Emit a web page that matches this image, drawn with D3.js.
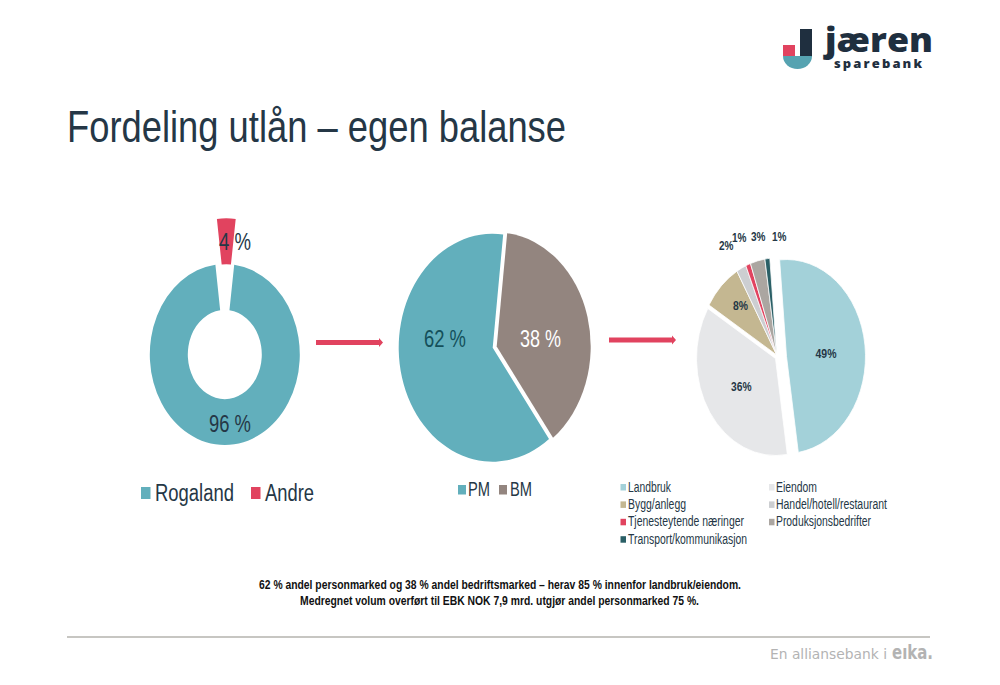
<!DOCTYPE html>
<html><head><meta charset="utf-8">
<style>html,body{margin:0;background:#fff}svg{display:block}text{font-family:"Liberation Sans",Arial,sans-serif}</style>
<script src="https://cdnjs.cloudflare.com/ajax/libs/d3/7.8.5/d3.min.js"></script>
</head><body><svg id="c" width="1000" height="685" viewBox="0 0 1000 685"></svg>
<script>
const regionCats = ["Rogaland", "Andre"];
const regionVals = [96, 4];
const regionLabels = ["96 %", "4 %"];
const marketCats = ["PM", "BM"];
const marketVals = [62, 38];
const marketLabels = ["62 %", "38 %"];
const sectorCats = ["Landbruk", "Eiendom", "Bygg/anlegg", "Handel/hotell/restaurant", "Tjenesteytende næringer", "Produksjonsbedrifter", "Transport/kommunikasjon"];
const sectorVals = [49, 36, 8, 2, 1, 3, 1];
const sectorLabels = ["49%", "36%", "8%", "2%", "1%", "3%", "1%"];
const titleText = "Fordeling utlån – egen balanse";
const noteLines = ["62 % andel personmarked og 38 % andel bedriftsmarked – herav 85 % innenfor landbruk/eiendom.", "Medregnet volum overført til EBK NOK 7,9 mrd. utgjør andel personmarked 75 %."];

const svg = d3.select("#c");
const DARK = "#253746", TEAL = "#62AFBC", RED = "#E1435F";
const regionColor = d3.scaleOrdinal(regionCats, [TEAL, RED]);
const marketColor = d3.scaleOrdinal(marketCats, [TEAL, "#93857F"]);
const sectorColor = d3.scaleOrdinal(sectorCats, ["#A3D1D9", "#E6E7E9", "#C4B791", "#CCCED1", RED, "#ABA6A1", "#2A5F66"]);
const rad = d => d * Math.PI / 180;

function label(s, x, y, size, width, fill, o = {}) {
  return svg.append("text").attr("x", x).attr("y", y).attr("font-size", size)
    .attr("fill", fill).attr("font-weight", o.weight || (o.bold ? 700 : 400))
    .attr("textLength", width).attr("lengthAdjust", o.adjust || "spacingAndGlyphs")
    .style("font-family", o.font || null).text(s);
}

// An elliptical pie: the slide is stretched vertically, so each slice is drawn in a scaled group.
function pieChart(cats, vals, color, start, o) {
  const pie = d3.pie().sort(null).startAngle(rad(start)).endAngle(rad(start + 360))(vals);
  pie.forEach((d, i) => {
    const c = o.centers(i);
    svg.append("g").attr("transform", `translate(${c[0]},${c[1]}) scale(1,${o.ry / o.rx})`)
      .append("path")
      .attr("d", d3.arc().innerRadius(o.inner || 0).outerRadius(o.rx)(d))
      .attr("fill", color(cats[i]))
      .attr("stroke", o.stroke || "none").attr("stroke-width", o.stroke ? 0.7 : 0);
  });
}

// Title
label(titleText, 67, 142, 44.5, 499, DARK);

// Logo
svg.append("rect").attr("x", 800).attr("y", 29).attr("width", 12).attr("height", 28).attr("fill", "#1F2F3F");
svg.append("rect").attr("x", 783).attr("y", 45).attr("width", 12).attr("height", 11).attr("fill", RED);
svg.append("path").attr("d", "M783,56 H812 A14.5,13 0 0 1 783,56 Z").attr("fill", "#56A3B1");
svg.append("path").attr("d", "M795,56 V51 H800 V56 Z").attr("fill", "#fff");
label("jæren", 825, 52, 33, 108, "#1F2F3F", {weight: 800, font: "'Open Sans'"});
label("sparebank", 834, 68, 13, 88, "#1F2F3F", {weight: 800, font: "'Open Sans'", adjust: "spacing"});

// Donut
pieChart(regionCats, regionVals, regionColor, 7.2, {
  rx: 75, ry: 90.5, inner: 37,
  centers: i => i === 0 ? [224.8, 354.5] : [226.3, 308.8]
});
label(regionLabels[0], 209, 432, 23.5, 42, DARK);
label(regionLabels[1], 219, 249.5, 23.5, 32, DARK);

// Market pie
pieChart(marketCats, marketVals, marketColor, -216.8, {
  rx: 94, ry: 114,
  centers: i => i === 0 ? [492.7, 347.7] : [496.7, 346.5]
});
label(marketLabels[0], 424, 347, 23.5, 42, "#14505A");
label(marketLabels[1], 520, 347, 23.5, 41, "#fff");

// Sector pie
pieChart(sectorCats, sectorVals, sectorColor, -5, {
  rx: 79, ry: 97, stroke: "#fff",
  centers: i => i === 0 ? [786.5, 356.5] : i === 1 ? [775.5, 358.5] : [776.7, 355]
});
const secLab = [[815.5, 358, 21], [731, 391, 20.5], [733, 310, 15], [719, 249.5, 14.5], [732, 241.5, 14.5], [751, 241, 14.5], [772, 241, 14.5]];
sectorLabels.forEach((s, i) => label(s, secLab[i][0], secLab[i][1], 13.5, secLab[i][2], DARK, {bold: true}));

// Arrows
[[316, 342.5], [609, 340]].forEach(([x, y]) => {
  svg.append("path").attr("fill", RED)
    .attr("d", `M${x},${y - 2.5} H${x + 63} V${y - 4.5} L${x + 67},${y} L${x + 63},${y + 4.5} V${y + 2.5} H${x} Z`);
});

// Legends
function legendItem(s, c, sx, sy, ss, sh, tx, ty, size, w) {
  svg.append("rect").attr("x", sx).attr("y", sy).attr("width", ss).attr("height", sh).attr("fill", c);
  label(s, tx, ty, size, w, DARK);
}
legendItem(regionCats[0], regionColor(regionCats[0]), 141, 487, 9.5, 12, 155, 501, 23.5, 79);
legendItem(regionCats[1], regionColor(regionCats[1]), 251, 487, 9.5, 12, 265, 501, 23.5, 49);
legendItem(marketCats[0], marketColor(marketCats[0]), 458, 485, 8, 9.5, 468, 496, 20, 22);
legendItem(marketCats[1], marketColor(marketCats[1]), 499, 485, 8, 9.5, 510, 496, 20, 22);
const secWidths = [43, 41, 58, 111, 116, 95, 119];
sectorCats.forEach((s, i) => {
  const col = i % 2, row = Math.floor(i / 2);
  const sx = col ? 769 : 620.5, tx = col ? 776 : 628, y = 491.5 + row * 17.4;
  legendItem(s, sectorColor(s), sx, y - 7.5, 5.5, 6.5, tx, y, 14, secWidths[i]);
});

// Note
label(noteLines[0], 259, 589, 13.5, 482, "#111", {bold: true});
label(noteLines[1], 300, 605, 13.5, 399, "#111", {bold: true});

// Footer
svg.append("line").attr("x1", 67).attr("x2", 930).attr("y1", 637).attr("y2", 637).attr("stroke", "#B5B3AE").attr("stroke-width", 1.3);
label("En alliansebank i", 770, 659, 14.5, 117, "#B3B3B3", {font: "'DejaVu Sans'"});
label("eıka.", 892, 659, 19, 41, "#B3B3B3", {bold: true, font: "'DejaVu Sans'"});
</script></body></html>
